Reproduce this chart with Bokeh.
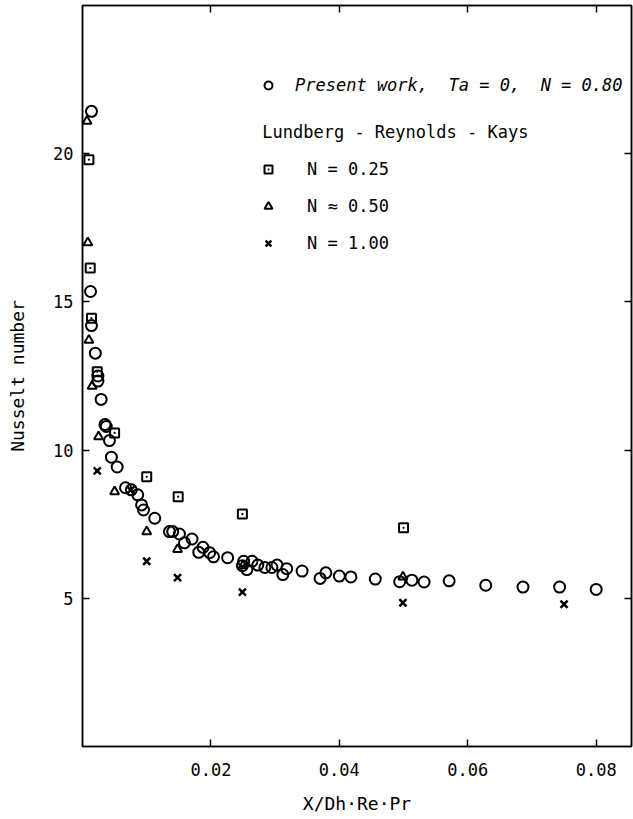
from bokeh.plotting import figure
from bokeh.models import (Range1d, FixedTicker, LinearAxis, Legend, LegendItem, Label,
                          CustomJSTickFormatter)
from bokeh.embed import file_html
from bokeh.resources import INLINE

# ---- data ----
pw_x = [0.0014, 0.00125, 0.0014, 0.0020, 0.0024, 0.0024, 0.0029, 0.0035, 0.0037, 0.0042,
        0.0045, 0.0054, 0.0067, 0.0076, 0.0086, 0.0092, 0.0095,
        0.01125, 0.01354, 0.01405, 0.0151, 0.01588, 0.01706, 0.0181, 0.01877, 0.0198, 0.0204,
        0.0226, 0.0251, 0.0249, 0.0256, 0.0264, 0.0273, 0.0284, 0.0295, 0.0303, 0.0312,
        0.0318, 0.0342, 0.0370, 0.0379, 0.0400, 0.0418, 0.0456, 0.0494, 0.0513, 0.0532,
        0.0571, 0.0628, 0.0686, 0.0743, 0.0800]
pw_y = [21.43, 15.35, 14.2, 13.27, 12.5, 12.33, 11.71, 10.86, 10.8, 10.32,
        9.76, 9.43, 8.73, 8.66, 8.49, 8.15, 7.98,
        7.70, 7.25, 7.25, 7.17, 6.87, 7.0, 6.55, 6.72, 6.54, 6.4,
        6.37, 6.25, 6.1, 5.97, 6.25, 6.12, 6.04, 6.04, 6.12, 5.80,
        6.0, 5.92, 5.67, 5.86, 5.75, 5.72, 5.65, 5.56, 5.61, 5.55,
        5.59, 5.44, 5.38, 5.38, 5.30]

n25_x = [0.0010, 0.0012, 0.0014, 0.0023, 0.0050, 0.0100, 0.0149, 0.0249, 0.0500]
n25_y = [19.8, 16.14, 14.45, 12.64, 10.58, 9.1, 8.43, 7.84, 7.38]

n50_x = [0.0007, 0.00083, 0.0010, 0.0015, 0.0025, 0.0050, 0.0100, 0.0148, 0.0250, 0.0499]
n50_y = [21.1, 17.0, 13.71, 12.16, 10.45, 8.6, 7.25, 6.65, 6.1, 5.72]

n100_x = [0.0023, 0.0075, 0.0100, 0.0148, 0.0249, 0.0499, 0.0750]
n100_y = [9.3, 8.65, 6.25, 5.70, 5.21, 4.85, 4.80]

x_ticks = [0.02, 0.04, 0.06, 0.08]
y_ticks = [5, 10, 15, 20]

FONT = "DejaVu Sans Mono"

p = figure(width=633, height=819, x_range=Range1d(0, 0.0855), y_range=Range1d(0, 25),
           output_backend="svg", toolbar_location=None,
           x_axis_label="X/Dh\u00b7Re\u00b7Pr", y_axis_label="Nusselt number",
           min_border_left=82, min_border_right=2, min_border_top=5, min_border_bottom=73)
p.grid.visible = False
p.outline_line_color = "black"
p.outline_line_width = 1.5
p.background_fill_color = "white"
p.border_fill_color = "white"

for ax in p.xaxis + p.yaxis:
    ax.axis_line_width = 1.5
    ax.major_tick_line_width = 1.5
    ax.major_tick_in = 7
    ax.major_tick_out = 0
    ax.minor_tick_line_color = None
    ax.major_label_text_font = FONT
    ax.major_label_text_font_size = "17px"
    ax.major_label_text_color = "black"
    ax.axis_label_text_font = FONT
    ax.axis_label_text_font_size = "18px"
    ax.axis_label_text_font_style = "normal"
    ax.axis_label_text_color = "black"

p.xaxis.ticker = FixedTicker(ticks=x_ticks)
p.yaxis.ticker = FixedTicker(ticks=y_ticks)
p.xaxis.major_label_standoff = 16
p.xaxis.axis_label_standoff = 14
p.yaxis.major_label_standoff = 9
p.yaxis.axis_label_standoff = 22

blank = CustomJSTickFormatter(code="return ''")
right = LinearAxis(ticker=FixedTicker(ticks=y_ticks), major_tick_in=7, major_tick_out=0,
                   major_tick_line_width=1.5, axis_line_width=1.5,
                   minor_tick_line_color=None, formatter=blank,
                   major_label_standoff=0)
p.add_layout(right, "right")
top = LinearAxis(ticker=FixedTicker(ticks=x_ticks), major_tick_in=7, major_tick_out=0,
                 major_tick_line_width=1.5, axis_line_width=1.5,
                 minor_tick_line_color=None, formatter=blank,
                 major_label_standoff=0)
p.add_layout(top, "above")

r_pw = p.scatter(pw_x, pw_y, marker="circle", size=11, line_width=2,
                 line_color="black", fill_color=None)
r_25 = p.scatter(n25_x, n25_y, marker="square_dot", size=9, line_width=2,
                 line_color="black", fill_color=None)
r_50 = p.scatter(n50_x, n50_y, marker="triangle", size=9, line_width=2,
                 line_color="black", fill_color=None)
r_100 = p.scatter(n100_x, n100_y, marker="x", size=10, line_width=2.5,
                  line_color="black")

leg1 = Legend(items=[LegendItem(label="Present work,  Ta = 0,  N = 0.80", renderers=[r_pw])],
              location=(176, 651), glyph_width=20, glyph_height=20, label_height=20,
              label_standoff=17, padding=0, margin=0, border_line_color=None,
              background_fill_alpha=0, label_text_font=FONT, label_text_font_style="italic",
              label_text_font_size="17px", label_text_color="black")
leg2 = Legend(items=[LegendItem(label="N = 0.25", renderers=[r_25]),
                     LegendItem(label="N \u2248 0.50", renderers=[r_50]),
                     LegendItem(label="N = 1.00", renderers=[r_100])],
              location=(176, 493), glyph_width=20, glyph_height=20, label_height=20,
              spacing=17, label_standoff=29, padding=0, margin=0, border_line_color=None,
              background_fill_alpha=0, label_text_font=FONT,
              label_text_font_size="17px", label_text_color="black")
p.add_layout(leg1, "center")
p.add_layout(leg2, "center")

p.add_layout(Label(x=0.028, y=20.72, text="Lundberg - Reynolds - Kays", text_font=FONT,
                   text_font_size="17px", text_baseline="middle", text_color="black"))

open("out.html", "w").write(file_html(p, INLINE))
